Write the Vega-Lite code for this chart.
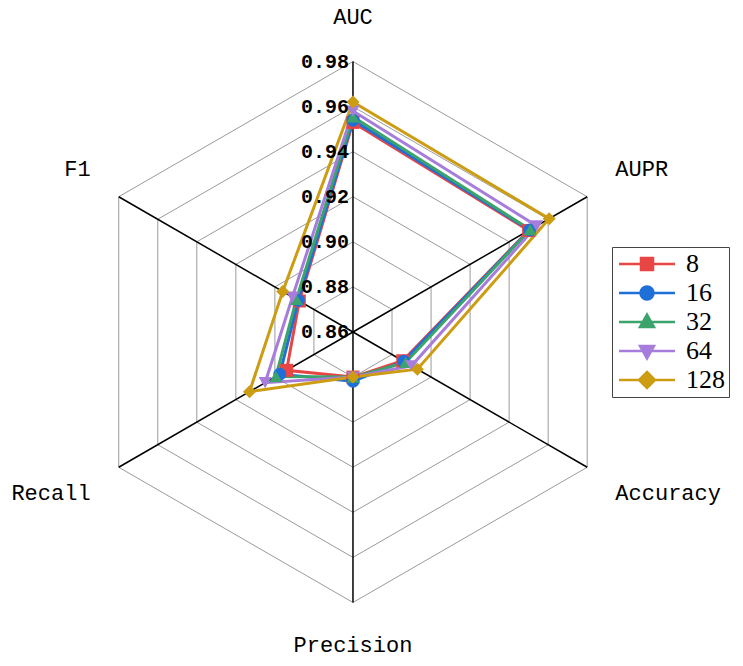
{
  "$schema": "https://vega.github.io/schema/vega-lite/v6.json",
  "width": 743,
  "height": 666,
  "autosize": "none",
  "padding": 0,
  "background": "white",
  "config": {"view": {"stroke": null}},
  "datasets": {
    "scores": [
      {"metric": "AUC", "size": "8", "value": 0.953},
      {"metric": "AUPR", "size": "8", "value": 0.950},
      {"metric": "Accuracy", "size": "8", "value": 0.8855},
      {"metric": "Precision", "size": "8", "value": 0.880},
      {"metric": "Recall", "size": "8", "value": 0.894},
      {"metric": "F1", "size": "8", "value": 0.8875},
      {"metric": "AUC", "size": "16", "value": 0.954},
      {"metric": "AUPR", "size": "16", "value": 0.9505},
      {"metric": "Accuracy", "size": "16", "value": 0.886},
      {"metric": "Precision", "size": "16", "value": 0.8818},
      {"metric": "Recall", "size": "16", "value": 0.8975},
      {"metric": "F1", "size": "16", "value": 0.888},
      {"metric": "AUC", "size": "32", "value": 0.9555},
      {"metric": "AUPR", "size": "32", "value": 0.9508},
      {"metric": "Accuracy", "size": "32", "value": 0.887},
      {"metric": "Precision", "size": "32", "value": 0.880},
      {"metric": "Recall", "size": "32", "value": 0.8995},
      {"metric": "F1", "size": "32", "value": 0.889},
      {"metric": "AUC", "size": "64", "value": 0.958},
      {"metric": "AUPR", "size": "64", "value": 0.9541},
      {"metric": "Accuracy", "size": "64", "value": 0.890},
      {"metric": "Precision", "size": "64", "value": 0.880},
      {"metric": "Recall", "size": "64", "value": 0.905},
      {"metric": "F1", "size": "64", "value": 0.891},
      {"metric": "AUC", "size": "128", "value": 0.962},
      {"metric": "AUPR", "size": "128", "value": 0.9605},
      {"metric": "Accuracy", "size": "128", "value": 0.893},
      {"metric": "Precision", "size": "128", "value": 0.880},
      {"metric": "Recall", "size": "128", "value": 0.913},
      {"metric": "F1", "size": "128", "value": 0.896}
    ],
    "rings": [
      {"level": 0.88, "metric": ["AUC", "AUPR", "Accuracy", "Precision", "Recall", "F1"]},
      {"level": 0.90, "metric": ["AUC", "AUPR", "Accuracy", "Precision", "Recall", "F1"]},
      {"level": 0.92, "metric": ["AUC", "AUPR", "Accuracy", "Precision", "Recall", "F1"]},
      {"level": 0.94, "metric": ["AUC", "AUPR", "Accuracy", "Precision", "Recall", "F1"]},
      {"level": 0.96, "metric": ["AUC", "AUPR", "Accuracy", "Precision", "Recall", "F1"]},
      {"level": 0.98, "metric": ["AUC", "AUPR", "Accuracy", "Precision", "Recall", "F1"]}
    ],
    "ticks": [
      {"level": 0.86}, {"level": 0.88}, {"level": 0.90}, {"level": 0.92},
      {"level": 0.94}, {"level": 0.96}, {"level": 0.98}
    ],
    "metrics": [
      {"metric": "AUC"}, {"metric": "AUPR"}, {"metric": "Accuracy"},
      {"metric": "Precision"}, {"metric": "Recall"}, {"metric": "F1"}
    ]
  },
  "encoding": {
    "x": {"field": "x", "type": "quantitative", "axis": null, "scale": {"domain": [-1.305, 1.442], "nice": false, "zero": false}},
    "y": {"field": "y", "type": "quantitative", "axis": null, "scale": {"domain": [-1.2348, 1.2274], "nice": false, "zero": false}}
  },
  "layer": [
    {
      "data": {"name": "rings"},
      "transform": [
        {"flatten": ["metric"]},
        {"calculate": "indexof(['AUC','AUPR','Accuracy','Precision','Recall','F1'], datum.metric)", "as": "idx"},
        {"calculate": "(datum.level - 0.86) / 0.12", "as": "r"},
        {"calculate": "datum.r * sin(datum.idx * PI / 3)", "as": "x"},
        {"calculate": "datum.r * cos(datum.idx * PI / 3)", "as": "y"}
      ],
      "mark": {"type": "line", "interpolate": "linear-closed", "color": "#9a9a9a", "strokeWidth": 1},
      "encoding": {
        "detail": {"field": "level", "type": "nominal"},
        "order": {"field": "idx", "type": "quantitative"}
      }
    },
    {
      "data": {"name": "metrics"},
      "transform": [
        {"calculate": "indexof(['AUC','AUPR','Accuracy','Precision','Recall','F1'], datum.metric)", "as": "idx"},
        {"calculate": "sin(datum.idx * PI / 3)", "as": "x"},
        {"calculate": "cos(datum.idx * PI / 3)", "as": "y"}
      ],
      "mark": {"type": "rule", "color": "black", "strokeWidth": 1.5},
      "encoding": {
        "x2": {"datum": 0},
        "y2": {"datum": 0}
      }
    },
    {
      "data": {"name": "metrics"},
      "transform": [
        {"calculate": "indexof(['AUC','AUPR','Accuracy','Precision','Recall','F1'], datum.metric)", "as": "idx"},
        {"calculate": "1.12 * sin(datum.idx * PI / 3)", "as": "x"},
        {"calculate": "1.12 * cos(datum.idx * PI / 3)", "as": "y"}
      ],
      "mark": {
        "type": "text",
        "font": "Liberation Mono",
        "fontSize": 22,
        "color": "black",
        "align": {"expr": "datum.x > 0.1 ? 'left' : datum.x < -0.1 ? 'right' : 'center'"},
        "baseline": {"expr": "datum.y > 0 ? 'bottom' : 'top'"}
      },
      "encoding": {
        "text": {"field": "metric", "type": "nominal"}
      }
    },
    {
      "data": {"name": "scores"},
      "transform": [
        {"calculate": "indexof(['AUC','AUPR','Accuracy','Precision','Recall','F1'], datum.metric)", "as": "idx"},
        {"calculate": "(datum.value - 0.86) / 0.12", "as": "r"},
        {"calculate": "datum.r * sin(datum.idx * PI / 3)", "as": "x"},
        {"calculate": "datum.r * cos(datum.idx * PI / 3)", "as": "y"}
      ],
      "resolve": {"legend": {"color": "independent", "shape": "independent"}},
      "layer": [
        {
          "mark": {"type": "line", "interpolate": "linear-closed", "strokeWidth": 3},
          "encoding": {
            "order": {"field": "idx", "type": "quantitative"},
            "color": {
              "field": "size",
              "type": "nominal",
              "sort": ["8", "16", "32", "64", "128"],
              "scale": {"domain": ["8", "16", "32", "64", "128"], "range": ["#e84545", "#1f6fd9", "#3ba36b", "#a77ddb", "#cc9c12"]},
              "legend": {
                "title": null,
                "orient": "none",
                "legendX": 612,
                "legendY": 247,
                "direction": "vertical",
                "padding": 4,
                "strokeColor": "#444",
                "fillColor": "white",
                "symbolSize": 400,
                "labelOffset": 44,
                "rowPadding": 3,
                "labelFont": "Liberation Serif",
                "labelFontSize": 26,
                "labelColor": "black",
                "encode": {
                  "symbols": {
                    "update": {
                      "shape": {"signal": "datum.value == '8' ? 'M-1,0H4.6M1.2,-0.6H2.4V0.6H1.2Z' : datum.value == '16' ? 'M-1,0H4.6M2.45,0A0.65,0.65 0 1,1 1.15,0A0.65,0.65 0 1,1 2.45,0Z' : datum.value == '32' ? 'M-1,0H4.6M1.8,-0.75L2.5,0.5L1.1,0.5Z' : datum.value == '64' ? 'M-1,0H4.6M1.8,0.75L2.5,-0.5L1.1,-0.5Z' : 'M-1,0H4.6M1.8,-0.8L2.6,0L1.8,0.8L1,0Z'"},
                      "size": {"value": 400},
                      "fill": {"scale": "color", "field": "value"},
                      "stroke": {"scale": "color", "field": "value"},
                      "strokeWidth": {"value": 2.5},
                      "opacity": {"value": 1}
                    }
                  }
                }
              }
            }
          }
        },
        {
          "mark": {"type": "point", "filled": true, "opacity": 1, "size": 170},
          "encoding": {
            "color": {"field": "size", "type": "nominal", "sort": ["8", "16", "32", "64", "128"], "legend": null},
            "shape": {
              "field": "size",
              "type": "nominal",
              "scale": {"domain": ["8", "16", "32", "64", "128"], "range": ["square", "circle", "triangle-up", "triangle-down", "diamond"]},
              "legend": null
            }
          }
        }
      ]
    },
    {
      "data": {"name": "ticks"},
      "transform": [
        {"calculate": "0", "as": "x"},
        {"calculate": "(datum.level - 0.86) / 0.12", "as": "y"}
      ],
      "mark": {"type": "text", "align": "right", "baseline": "middle", "dx": -4, "font": "Liberation Mono", "fontSize": 20, "fontWeight": "bold", "color": "black"},
      "encoding": {
        "text": {"field": "level", "type": "quantitative", "format": ".2f"}
      }
    }
  ]
}
